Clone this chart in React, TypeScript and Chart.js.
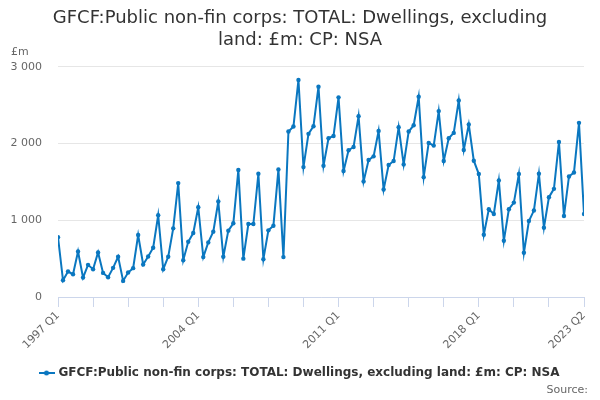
import { useEffect, useRef } from 'react';
import { Chart, registerables } from 'chart.js';

Chart.register(...registerables);

const seriesName = 'GFCF:Public non-fin corps: TOTAL: Dwellings, excluding land: £m: CP: NSA';
const titleLines = ['GFCF:Public non-fin corps: TOTAL: Dwellings, excluding', 'land: £m: CP: NSA'];

// quarterly, 1997 Q1 .. 2023 Q2
const startYear = 1997;
const quarterCount = 106;
const categories: string[] = [];
for (let i = 0; i < quarterCount; i++) {
    categories.push(`${startYear + Math.floor(i / 4)} Q${(i % 4) + 1}`);
}

const values = [
    780, 218, 332, 297, 594, 253, 419, 362, 581, 314,
    258, 380, 524, 210, 319, 376, 808, 424, 528, 642,
    1066, 362, 524, 895, 1485, 480, 720, 834, 1170, 520,
    712, 852, 1245, 524, 865, 961, 1655, 500, 952, 952,
    1607, 493, 869, 930, 1664, 520, 2157, 2223, 2830, 1694,
    2127, 2227, 2742, 1712, 2070, 2100, 2603, 1642, 1913, 1956,
    2358, 1507, 1786, 1834, 2166, 1402, 1721, 1773, 2214, 1729,
    2157, 2240, 2611, 1563, 2009, 1974, 2424, 1773, 2070, 2140,
    2563, 1917, 2249, 1777, 1603, 812, 1144, 1083, 1520, 734,
    1144, 1231, 1603, 576, 991, 1127, 1607, 904, 1301, 1410,
    2022, 1057, 1572, 1624, 2271, 1083,
];

const labelledTicks = [0, 28, 56, 84, 105];
const yTicks = [0, 1000, 2000, 3000];

const lineColor = '#0a77c0';

function legendSymbol() {
    const c = document.createElement('canvas');
    c.width = 16;
    c.height = 8;
    const ctx = c.getContext('2d')!;
    ctx.strokeStyle = lineColor;
    ctx.lineWidth = 2;
    ctx.beginPath();
    ctx.moveTo(0, 4);
    ctx.lineTo(16, 4);
    ctx.stroke();
    ctx.fillStyle = lineColor;
    ctx.beginPath();
    ctx.arc(8, 4, 2.5, 0, Math.PI * 2);
    ctx.fill();
    return c;
}

export default function App() {
    const chartRef = useRef<HTMLCanvasElement>(null);
    const chartInstance = useRef<Chart | null>(null);

    useEffect(() => {
        document.body.style.margin = '0';
        if (!chartRef.current) return;
        Chart.defaults.font.family = '"DejaVu Sans", sans-serif';
        chartInstance.current = new Chart(chartRef.current, {
            type: 'line',
            data: {
                datasets: [
                    {
                        label: seriesName,
                        data: values.map((v, i) => ({ x: i, y: v })),
                        borderColor: lineColor,
                        backgroundColor: lineColor,
                        borderWidth: 2,
                        pointRadius: 2.2,
                        pointBorderWidth: 0,
                        tension: 0,
                    },
                ],
            },
            options: {
                animation: false,
                responsive: true,
                maintainAspectRatio: false,
                layout: { padding: { left: 0, right: 0, bottom: 11, top: 0 } },
                plugins: {
                    title: {
                        display: true,
                        text: titleLines,
                        color: '#333333',
                        font: { size: 18, weight: 'normal', lineHeight: 1.22 },
                        padding: { top: 7, bottom: 16 },
                    },
                    legend: {
                        position: 'bottom',
                        labels: {
                            usePointStyle: true,
                            pointStyle: legendSymbol(),
                            color: '#333333',
                            font: { size: 12, weight: 'bold' },
                            padding: 10,
                        },
                    },
                    tooltip: { enabled: false },
                },
                scales: {
                    x: {
                        type: 'linear',
                        min: 0,
                        max: quarterCount - 1,
                        afterFit: (scale: any) => {
                            scale.height = 60;
                        },
                        afterBuildTicks: (scale: any) => {
                            const t = [];
                            for (let i = 0; i < quarterCount; i += 7) t.push({ value: i });
                            scale.ticks = t;
                        },
                        ticks: {
                            autoSkip: false,
                            minRotation: 45,
                            maxRotation: 45,
                            color: '#666666',
                            font: { size: 11 },
                            padding: 2,
                            callback: (v: any) => (labelledTicks.includes(Number(v)) ? categories[Number(v)] : ''),
                        },
                        grid: {
                            drawOnChartArea: false,
                            drawTicks: true,
                            tickLength: 10,
                            color: '#ccd6eb',
                        },
                        border: { color: '#ccd6eb', width: 1 },
                    },
                    y: {
                        min: 0,
                        max: 3000,
                        afterFit: (scale: any) => {
                            scale.width = 58;
                        },
                        afterBuildTicks: (scale: any) => {
                            scale.ticks = yTicks.map((v) => ({ value: v }));
                        },
                        ticks: {
                            color: '#666666',
                            font: { size: 11 },
                            padding: 16,
                            callback: (v: any) => String(v).replace(/\B(?=(\d{3})+(?!\d))/g, ' '),
                        },
                        grid: { color: '#e6e6e6', drawTicks: false },
                        border: { display: false },
                    },
                    // empty right-hand margin so title and legend stay centred on the page
                    spacer: {
                        position: 'right',
                        afterFit: (scale: any) => {
                            scale.width = 16;
                        },
                        ticks: { display: false },
                        grid: { display: false },
                        border: { display: false },
                    },
                },
            },
        });
        return () => {
            chartInstance.current?.destroy();
            chartInstance.current = null;
        };
    }, []);

    return (
        <div style={{ position: 'relative', width: 600, height: 400, fontFamily: '"DejaVu Sans", sans-serif' }}>
            <canvas ref={chartRef} />
            <div style={{ position: 'absolute', left: 11, top: 45, fontSize: 11, color: '#666666' }}>£m</div>
            <div style={{ position: 'absolute', right: 12, top: 383, fontSize: 11, color: '#666666' }}>Source:</div>
        </div>
    );
}
